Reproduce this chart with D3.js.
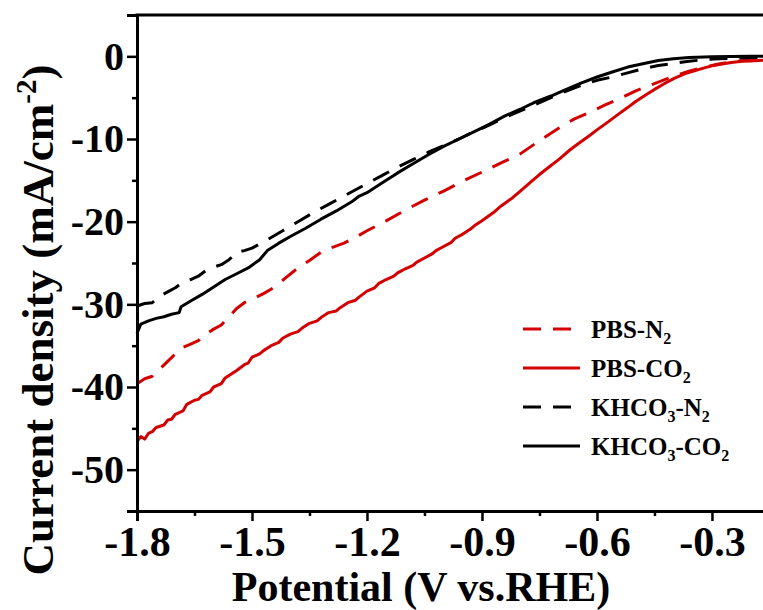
<!DOCTYPE html>
<html>
<head>
<meta charset="utf-8">
<script src="https://cdn.jsdelivr.net/npm/d3@7"></script>
<style>
  body { margin: 0; background: #fff; }
  svg { display: block; font-family: "Liberation Serif", "Times New Roman", serif; font-weight: bold; }
</style>
</head>
<body>
<script>
// data: [potential (V vs RHE), current density (mA/cm2)]
const pbsN2 = [
  [-1.80, -39.6], [-1.78, -39.0], [-1.76, -38.7], [-1.74, -37.8], [-1.72, -36.9], [-1.70, -36.0],
  [-1.68, -35.2], [-1.66, -34.8], [-1.64, -34.4], [-1.62, -33.6], [-1.60, -33.0], [-1.58, -32.5],
  [-1.56, -31.5], [-1.54, -30.5], [-1.52, -29.8], [-1.50, -29.4], [-1.47, -28.7], [-1.44, -27.9],
  [-1.41, -26.7], [-1.38, -25.6], [-1.35, -24.7], [-1.32, -23.7], [-1.29, -23.1], [-1.26, -22.6],
  [-1.23, -21.9], [-1.20, -21.1], [-1.15, -19.9], [-1.10, -18.6], [-1.05, -17.4], [-1.00, -16.3],
  [-0.95, -15.1], [-0.90, -14.0], [-0.85, -12.9], [-0.80, -11.8], [-0.75, -10.2], [-0.70, -8.7],
  [-0.66, -7.6], [-0.62, -6.8], [-0.58, -5.9], [-0.54, -5.1], [-0.50, -4.2], [-0.45, -3.3],
  [-0.40, -2.4], [-0.36, -1.8], [-0.32, -1.3], [-0.28, -0.9], [-0.24, -0.6], [-0.20, -0.45],
  [-0.15, -0.35], [-0.10, -0.3]
];
const pbsCO2 = [
  [-1.80, -46.6], [-1.79, -46.0], [-1.78, -46.3], [-1.77, -45.6], [-1.76, -45.4], [-1.75, -44.9],
  [-1.73, -44.6], [-1.72, -44.0], [-1.71, -43.9], [-1.70, -43.3], [-1.68, -42.9], [-1.67, -42.1],
  [-1.65, -41.6], [-1.64, -41.5], [-1.63, -41.0], [-1.61, -40.6], [-1.60, -40.0], [-1.58, -39.6],
  [-1.57, -38.9], [-1.55, -38.3], [-1.54, -38.0], [-1.52, -37.3], [-1.51, -37.1], [-1.50, -36.4],
  [-1.48, -36.0], [-1.47, -35.6], [-1.45, -35.0], [-1.43, -34.6], [-1.42, -34.1], [-1.40, -33.6],
  [-1.38, -33.3], [-1.37, -32.9], [-1.35, -32.3], [-1.33, -32.0], [-1.32, -31.6], [-1.30, -31.0],
  [-1.28, -30.8], [-1.27, -30.4], [-1.25, -29.8], [-1.23, -29.5], [-1.22, -29.1], [-1.20, -28.4],
  [-1.18, -28.0], [-1.17, -27.5], [-1.15, -27.0], [-1.13, -26.6], [-1.12, -26.2], [-1.10, -25.7],
  [-1.08, -25.3], [-1.07, -24.9], [-1.05, -24.4], [-1.03, -23.9], [-1.02, -23.5], [-1.00, -23.0],
  [-0.98, -22.5], [-0.97, -22.0], [-0.95, -21.5], [-0.93, -20.9], [-0.92, -20.5], [-0.90, -19.9],
  [-0.87, -18.9], [-0.85, -18.1], [-0.82, -17.1], [-0.80, -16.3],
  [-0.77, -15.1], [-0.75, -14.3], [-0.72, -13.2], [-0.70, -12.5], [-0.67, -11.3], [-0.65, -10.6],
  [-0.62, -9.6], [-0.60, -8.9], [-0.57, -7.9], [-0.55, -7.2], [-0.52, -6.2], [-0.50, -5.5],
  [-0.47, -4.6], [-0.45, -4.0], [-0.42, -3.2], [-0.40, -2.7], [-0.37, -2.1], [-0.35, -1.8],
  [-0.32, -1.4], [-0.30, -1.15], [-0.27, -0.9], [-0.25, -0.75], [-0.22, -0.6], [-0.20, -0.55],
  [-0.15, -0.45], [-0.10, -0.4]
];
const khco3N2 = [
  [-1.80, -30.2], [-1.78, -29.9], [-1.76, -29.8], [-1.74, -29.0], [-1.72, -28.5], [-1.70, -28.0],
  [-1.68, -27.3], [-1.66, -27.0], [-1.64, -26.6], [-1.62, -25.9], [-1.60, -25.5], [-1.58, -25.2],
  [-1.56, -24.6], [-1.55, -24.2], [-1.54, -23.7], [-1.52, -23.5], [-1.50, -23.2], [-1.46, -22.2],
  [-1.42, -21.1], [-1.38, -20.0], [-1.34, -18.9], [-1.30, -17.9], [-1.26, -16.9], [-1.22, -15.9],
  [-1.20, -15.4], [-1.16, -14.4], [-1.12, -13.4], [-1.08, -12.5], [-1.04, -11.6], [-1.00, -10.8],
  [-0.96, -10.0], [-0.92, -9.1], [-0.88, -8.3], [-0.84, -7.4], [-0.80, -6.6], [-0.76, -5.8],
  [-0.72, -5.0], [-0.68, -4.2], [-0.64, -3.5], [-0.60, -2.9], [-0.56, -2.5], [-0.52, -2.0],
  [-0.48, -1.5], [-0.44, -1.1], [-0.40, -0.85], [-0.36, -0.6], [-0.32, -0.4], [-0.28, -0.3],
  [-0.20, -0.15], [-0.10, -0.1]
];
const khco3CO2 = [
  [-1.80, -33.5], [-1.79, -32.4], [-1.77, -32.0], [-1.75, -31.7], [-1.73, -31.5], [-1.71, -31.2],
  [-1.69, -31.0], [-1.685, -30.3], [-1.66, -29.6], [-1.63, -28.8], [-1.60, -27.9], [-1.57, -27.0],
  [-1.54, -26.3], [-1.51, -25.6], [-1.48, -24.6], [-1.46, -23.5], [-1.43, -22.6], [-1.40, -21.8],
  [-1.36, -20.8], [-1.32, -19.7], [-1.28, -18.7], [-1.24, -17.6], [-1.22, -16.9], [-1.20, -16.5],
  [-1.16, -15.3], [-1.12, -14.1], [-1.08, -13.0], [-1.04, -11.9], [-1.00, -10.9], [-0.96, -10.0],
  [-0.92, -9.1], [-0.88, -8.2], [-0.84, -7.2], [-0.80, -6.4], [-0.76, -5.5], [-0.72, -4.8],
  [-0.68, -4.0], [-0.64, -3.2], [-0.60, -2.5], [-0.56, -1.9], [-0.52, -1.3], [-0.48, -0.9],
  [-0.44, -0.5], [-0.40, -0.3], [-0.36, -0.15], [-0.30, -0.05], [-0.20, 0], [-0.10, 0]
];

const xTicks = [-1.8, -1.5, -1.2, -0.9, -0.6, -0.3];
const xMinor = [-1.65, -1.35, -1.05, -0.75, -0.45, -0.15];
const yTicks = [0, -10, -20, -30, -40, -50];
const yMinor = [-5, -15, -25, -35, -45];

const series = [
  { name: "PBS-N", sub: "2", pre: "", data: pbsN2, color: "#d40000", dash: "18,12" },
  { name: "PBS-CO", sub: "2", pre: "", data: pbsCO2, color: "#d40000", dash: null },
  { name: "KHCO", sub: "3", pre: "-N", sub2: "2", data: khco3N2, color: "#000", dash: "18,12" },
  { name: "KHCO", sub: "3", pre: "-CO", sub2: "2", data: khco3CO2, color: "#000", dash: null }
];

// SET UP
const W = 763, H = 610;
const plotLeft = 137, plotTop = 15, plotBottom = 511;

const x = d3.scaleLinear().domain([-1.8, -0.1]).range([plotLeft, plotLeft + 1.7 * 383.3]);
const y = d3.scaleLinear().domain([-55, 5]).range([plotBottom, plotTop]);

const svg = d3.select("body").append("svg")
  .attr("width", W)
  .attr("height", H);

svg.append("rect").attr("width", W).attr("height", H).attr("fill", "#fff");

// curves
const line = d3.line().x(d => x(d[0])).y(d => y(d[1]));

svg.append("g").selectAll("path")
  .data(series)
  .enter()
  .append("path")
  .attr("d", d => line(d.data))
  .attr("fill", "none")
  .attr("stroke", d => d.color)
  .attr("stroke-width", 3)
  .attr("stroke-linejoin", "round")
  .attr("stroke-dasharray", d => d.dash);

// axes
const xAxis = svg.append("g")
  .attr("transform", `translate(0,${plotBottom})`)
  .call(d3.axisBottom(x).tickValues(xTicks).tickSize(10).tickPadding(5).tickFormat(d3.format(".1f")));

svg.append("g")
  .attr("transform", `translate(0,${plotBottom})`)
  .call(d3.axisBottom(x).tickValues(xMinor).tickSize(5).tickFormat(""));

const yAxis = svg.append("g")
  .attr("transform", `translate(${plotLeft},0)`)
  .call(d3.axisLeft(y).tickValues(yTicks).tickSize(10).tickPadding(3).tickFormat(d3.format("d")));

svg.append("g")
  .attr("transform", `translate(${plotLeft},0)`)
  .call(d3.axisLeft(y).tickValues(yMinor).tickSize(5).tickFormat(""));

svg.selectAll(".domain").attr("stroke-width", 3).attr("stroke", "#000");
svg.selectAll(".tick line").attr("stroke-width", 2.5).attr("stroke", "#000");

xAxis.selectAll("text")
  .attr("font-size", 42)
  .attr("font-family", "Liberation Serif, serif")
  .attr("font-weight", "bold")
  .attr("fill", "#000")
  .text(d => d3.format(".1f")(d).replace("−", "-"));

yAxis.selectAll("text")
  .attr("font-size", 40)
  .attr("font-family", "Liberation Serif, serif")
  .attr("font-weight", "bold")
  .attr("fill", "#000")
  .text(d => String(d));

// top frame
svg.append("line")
  .attr("x1", plotLeft - 1.5).attr("x2", W)
  .attr("y1", plotTop).attr("y2", plotTop)
  .attr("stroke", "#000").attr("stroke-width", 3);

// axis titles
svg.append("text")
  .attr("x", 421)
  .attr("y", 601)
  .attr("text-anchor", "middle")
  .attr("font-size", 42)
  .text("Potential (V vs.RHE)");

const yTitle = svg.append("text")
  .attr("transform", "translate(53,320) rotate(-90)")
  .attr("text-anchor", "middle")
  .attr("font-size", 45);
yTitle.append("tspan").text("Current density (mA/cm");
yTitle.append("tspan").attr("font-size", 29).attr("dy", -17).text("-2");
yTitle.append("tspan").attr("dy", 17).text(")");

// legend
const legend = svg.append("g").attr("transform", "translate(523,329)");
const rows = legend.selectAll("g")
  .data(series)
  .enter()
  .append("g")
  .attr("transform", (d, i) => `translate(0,${i * 39})`);

rows.append("line")
  .attr("x1", 0).attr("x2", 57)
  .attr("stroke", d => d.color)
  .attr("stroke-width", 3)
  .attr("stroke-dasharray", d => d.dash);

rows.each(function (d) {
  const t = d3.select(this).append("text")
    .attr("x", 68)
    .attr("y", 9)
    .attr("font-size", 25);
  t.append("tspan").text(d.name);
  t.append("tspan").attr("font-size", 16).attr("dy", 6).text(d.sub);
  if (d.sub2) {
    t.append("tspan").attr("dy", -6).text(d.pre);
    t.append("tspan").attr("font-size", 16).attr("dy", 6).text(d.sub2);
  }
});
</script>
</body>
</html>
